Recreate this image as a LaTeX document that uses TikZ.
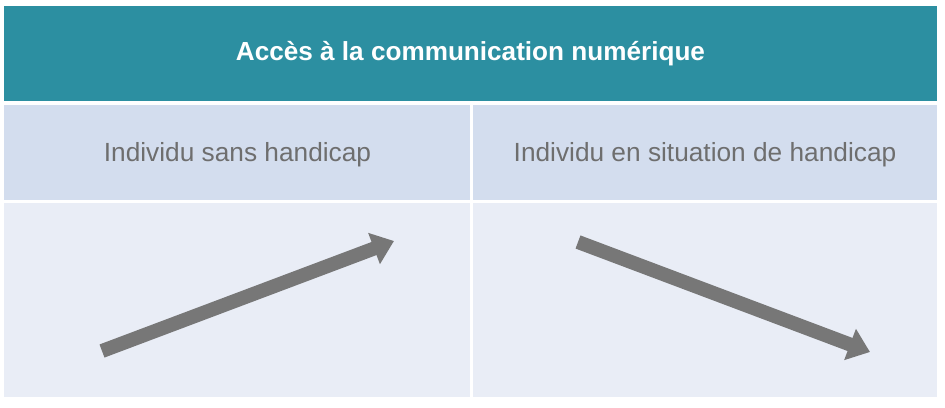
\documentclass[tikz,border=0pt]{standalone}
\usepackage{fontspec}
\setmainfont{Liberation Sans}
\usetikzlibrary{arrows.meta}
\definecolor{teal1}{HTML}{2C8FA1}
\definecolor{rowa}{HTML}{D3DDEE}
\definecolor{rowb}{HTML}{E9EDF6}
\definecolor{txtgray}{HTML}{6E6E6E}
\definecolor{arrgray}{HTML}{777777}
\tikzset{
  bigarrow/.style={draw=arrgray, line width=10.5pt,
    -{Triangle[width=24pt,length=16pt]}},
  subtitle/.style={text=txtgray, font=\fontsize{19.7pt}{23pt}\selectfont, anchor=center},
}
\begin{document}
\begin{tikzpicture}[x=0.75pt,y=-0.75pt]
\useasboundingbox[fill=white] (0,0) rectangle (945,407);
% header
\fill[teal1] (4,6) rectangle (937,101);
\node[text=white, font=\bfseries\fontsize{19.6pt}{23pt}\selectfont] (title) at (470.5,54) {Accès à la communication numérique};
% row 2
\fill[rowa] (4,105) rectangle (470,200);
\fill[rowa] (473,105) rectangle (937,200);
\node[subtitle] (left) at (237.5,155) {Individu sans handicap};
\node[subtitle] (right) at (705,155) {Individu en situation de handicap};
% row 3
\fill[rowb] (4,203) rectangle (470,397);
\fill[rowb] (473,203) rectangle (937,397);
% arrows
\coordinate (a1) at (102,351);
\coordinate (a2) at (394,241);
\coordinate (b1) at (578,242);
\coordinate (b2) at (870,352);
\draw[bigarrow] (a1) -- (a2);
\draw[bigarrow] (b1) -- (b2);
\end{tikzpicture}
\end{document}
